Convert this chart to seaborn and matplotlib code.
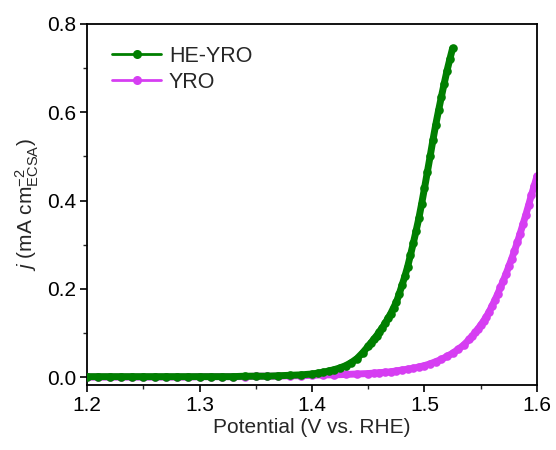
import numpy as np
import pandas as pd
import matplotlib
matplotlib.use("Agg")
import matplotlib.pyplot as plt
from matplotlib.ticker import MultipleLocator, FormatStrFormatter
import seaborn as sns

# LSV curves normalised by ECSA
he_potential = [
    1.200, 1.210, 1.220, 1.230, 1.240, 1.250, 1.260, 1.270, 1.280, 1.290,
    1.300, 1.310, 1.320, 1.330, 1.340, 1.350, 1.360, 1.370, 1.380, 1.390,
    1.400, 1.405, 1.410, 1.415, 1.420, 1.425, 1.430, 1.435, 1.440, 1.445,
    1.450, 1.4525, 1.455, 1.4575, 1.460, 1.4625, 1.465, 1.4675, 1.470, 1.4725,
    1.475, 1.4775, 1.480, 1.4825, 1.485, 1.4875, 1.490, 1.4925, 1.495, 1.4975,
    1.500, 1.5025, 1.505, 1.5075, 1.510, 1.5125, 1.515, 1.5175, 1.520, 1.5225,
    1.525,
]
he_current = [
    0.001, 0.001, 0.001, 0.001, 0.001, 0.001, 0.001, 0.001, 0.001, 0.001,
    0.001, 0.001, 0.001, 0.001, 0.002, 0.002, 0.002, 0.003, 0.004, 0.005,
    0.007, 0.009, 0.011, 0.014, 0.017, 0.021, 0.026, 0.033, 0.042, 0.055,
    0.070, 0.078, 0.086, 0.094, 0.103, 0.112, 0.122, 0.133, 0.144, 0.157,
    0.170, 0.188, 0.208, 0.228, 0.250, 0.276, 0.303, 0.331, 0.360, 0.393,
    0.428, 0.464, 0.500, 0.537, 0.572, 0.604, 0.635, 0.665, 0.694, 0.720,
    0.745,
]

yro_potential = [
    1.200, 1.210, 1.220, 1.230, 1.240, 1.250, 1.260, 1.270, 1.280, 1.290,
    1.300, 1.310, 1.320, 1.330, 1.340, 1.350, 1.360, 1.370, 1.380, 1.390,
    1.400, 1.410, 1.420, 1.430, 1.440, 1.450, 1.455, 1.460, 1.465, 1.470,
    1.475, 1.480, 1.485, 1.490, 1.495, 1.500, 1.505, 1.510, 1.515, 1.520,
    1.525, 1.530, 1.535, 1.540, 1.5425, 1.545, 1.5475, 1.550, 1.5525, 1.555,
    1.5575, 1.560, 1.5625, 1.565, 1.5675, 1.570, 1.5725, 1.575, 1.5775, 1.580,
    1.5825, 1.585, 1.5875, 1.590, 1.5925, 1.595, 1.5975, 1.600,
]
yro_current = [
    0.000, 0.000, 0.000, 0.000, 0.000, 0.000, 0.000, 0.000, 0.000, 0.000,
    0.001, 0.001, 0.001, 0.001, 0.001, 0.002, 0.002, 0.002, 0.003, 0.003,
    0.004, 0.005, 0.005, 0.006, 0.007, 0.008, 0.009, 0.010, 0.011, 0.012,
    0.014, 0.016, 0.018, 0.020, 0.023, 0.026, 0.030, 0.035, 0.040, 0.047,
    0.054, 0.063, 0.073, 0.086, 0.093, 0.101, 0.109, 0.118, 0.127, 0.137,
    0.148, 0.161, 0.174, 0.188, 0.203, 0.218, 0.234, 0.251, 0.268, 0.286,
    0.305, 0.325, 0.346, 0.367, 0.389, 0.412, 0.433, 0.455,
]

series_names = ["HE-YRO", "YRO"]
series_colors = {"HE-YRO": "#007F00", "YRO": "#D63EF2"}

x_ticks = [1.2, 1.3, 1.4, 1.5, 1.6]
y_ticks = [0.0, 0.2, 0.4, 0.6, 0.8]

df = pd.concat([
    pd.DataFrame({"Potential": he_potential, "j": he_current, "sample": "HE-YRO"}),
    pd.DataFrame({"Potential": yro_potential, "j": yro_current, "sample": "YRO"}),
], ignore_index=True)

sns.set_theme(style="ticks")
plt.rcParams["font.family"] = ["Liberation Sans", "DejaVu Sans"]
plt.rcParams["mathtext.fontset"] = "custom"
plt.rcParams["mathtext.rm"] = "Liberation Sans"
plt.rcParams["mathtext.it"] = "Liberation Sans:italic"
plt.rcParams["axes.linewidth"] = 1.2

fig = plt.figure(figsize=(5.56, 4.5), dpi=100)
ax = fig.add_axes([0.1565, 0.1444, 0.8093, 0.8023])

# YRO first so the HE-YRO curve sits on top where they overlap
for name, z in [("YRO", 2), ("HE-YRO", 3)]:
    sub = df[df["sample"] == name]
    sns.lineplot(data=sub, x="Potential", y="j", color=series_colors[name],
                 marker="o", markersize=6.2, markeredgewidth=0,
                 linewidth=5.0, label=name, ax=ax, sort=False,
                 estimator=None, zorder=z)

ax.set_xlim(1.2, 1.6)
ax.set_ylim(-0.018, 0.8)
ax.set_xticks(x_ticks)
ax.set_yticks(y_ticks)
ax.xaxis.set_major_formatter(FormatStrFormatter("%.1f"))
ax.yaxis.set_major_formatter(FormatStrFormatter("%.1f"))
ax.xaxis.set_minor_locator(MultipleLocator(0.05))
ax.yaxis.set_minor_locator(MultipleLocator(0.1))
ax.tick_params(which="major", direction="out", length=5, width=1.2,
               labelsize=15, colors="black", pad=3)
ax.tick_params(which="minor", direction="out", length=3, width=1.0)
for sp in ax.spines.values():
    sp.set_visible(True)
    sp.set_color("black")
    sp.set_linewidth(1.3)

ax.set_xlabel("Potential (V vs. RHE)", fontsize=15, labelpad=2)
ax.set_ylabel(r"$j$ (mA cm$^{-2}_{\mathrm{ECSA}}$)", fontsize=15, labelpad=4)

handles, labels = ax.get_legend_handles_labels()
order = [labels.index(n) for n in series_names]
leg = ax.legend([handles[i] for i in order], [labels[i] for i in order],
                loc="upper left", bbox_to_anchor=(0.055, 0.94), frameon=False,
                fontsize=15.5, handlelength=2.3, handletextpad=0.35,
                labelspacing=0.25, borderaxespad=0, borderpad=0)
for h in leg.legend_handles:
    h.set_linewidth(2.0)
    h.set_markersize(6.5)

fig.savefig("out.png", dpi=100, facecolor="white")
